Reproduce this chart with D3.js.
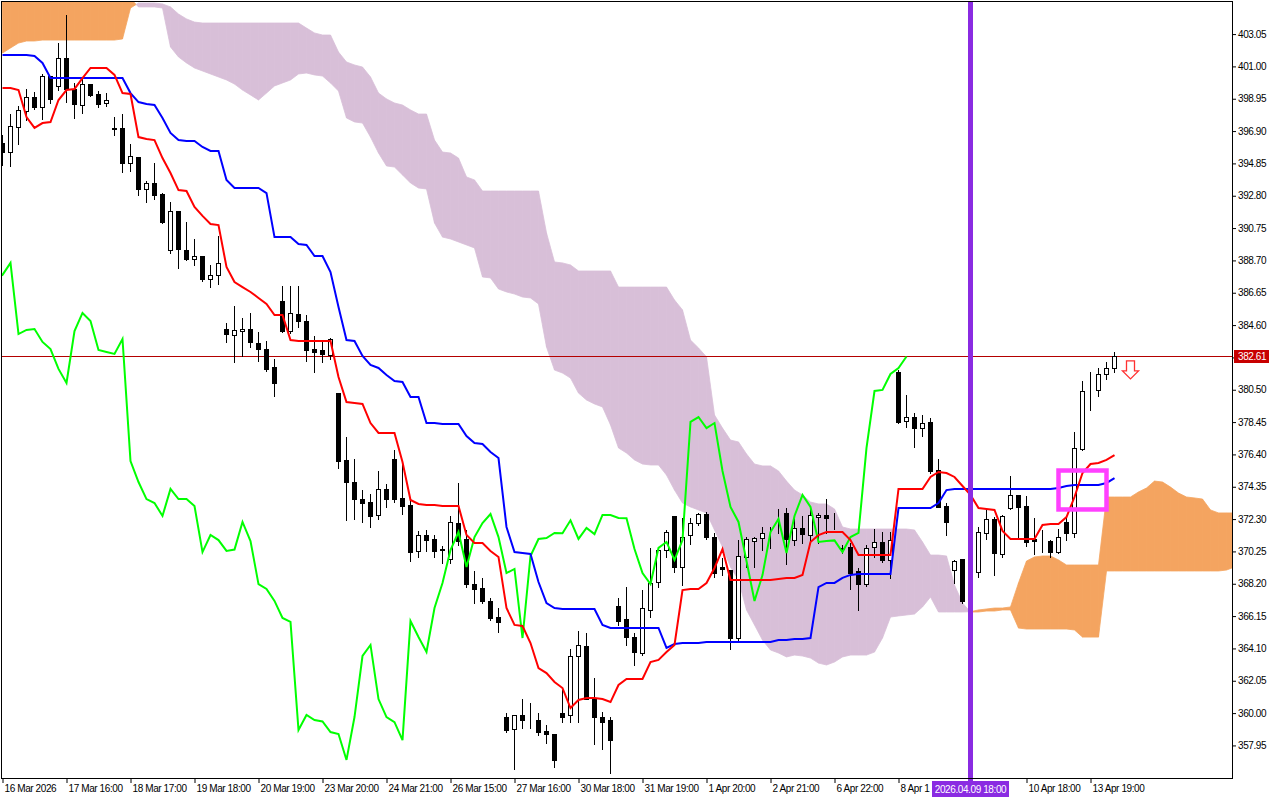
<!DOCTYPE html>
<html>
<head>
<meta charset="utf-8">
<script src="https://cdn.jsdelivr.net/npm/d3@7/dist/d3.min.js"></script>
<style>
html,body{margin:0;padding:0;background:#fff;}
svg{display:block;}
.ax text,.lbl{font-family:"Liberation Sans",Arial,sans-serif;font-size:10px;letter-spacing:-0.4px;}
.ax text{fill:#000;}
</style>
</head>
<body>
<svg id="chart" width="1280" height="800"></svg>
<script>
// ---------- DATA ----------
const opens = [
396.14,395.57,397.16,398.17,399.06,398.43,400.39,399.76,401.53,399.57,
398.55,399.88,399.25,398.68,397.10,397.10,394.88,395.26,393.23,393.61,
392.91,389.36,391.83,389.36,388.79,388.98,387.52,387.78,384.35,383.97,
384.22,384.35,383.46,383.08,381.94,386.13,384.22,385.30,384.86,383.08,
383.02,382.70,380.29,376.05,374.65,373.57,373.38,372.56,374.21,376.11,
373.64,373.19,370.28,371.29,371.04,370.40,369.77,372.05,371.04,368.18,
367.93,367.11,366.09,359.75,358.99,359.88,359.50,359.56,358.86,358.67,
360.01,359.88,363.62,364.25,360.89,359.75,359.56,366.79,365.97,364.82,
363.81,366.54,368.31,370.34,372.50,369.26,371.29,372.05,372.62,371.16,
369.26,369.07,364.76,369.90,370.91,371.10,371.42,372.24,372.69,370.97,
371.74,371.29,372.43,372.56,372.37,370.47,370.53,369.01,368.18,370.53,
370.85,369.71,381.63,378.52,378.77,378.07,378.46,375.41,373.13,369.07,
369.77,367.80,368.94,371.42,372.31,370.09,373.00,373.83,373.13,371.04,
370.97,370.91,370.21,372.12,371.42,376.74,380.48,380.48,381.50,381.88];
const highs = [
396.65,397.98,398.49,399.57,399.38,400.52,400.39,402.48,404.26,399.95,
400.26,399.88,399.44,399.31,397.79,397.98,396.08,395.26,393.73,394.88,
392.97,392.40,391.83,391.14,390.06,388.98,388.41,390.25,384.73,385.81,
385.05,385.37,384.16,383.59,382.45,387.08,387.08,387.08,385.24,383.91,
383.59,383.75,380.29,377.50,376.11,374.14,373.89,375.35,374.52,376.68,
376.05,373.51,371.55,371.61,371.29,370.59,372.50,374.59,371.61,369.01,
368.57,367.30,366.66,360.01,359.88,360.89,360.64,360.01,359.25,358.67,
361.46,364.06,365.20,365.08,362.22,360.07,359.75,367.30,367.99,365.08,
367.80,370.47,370.53,371.61,372.50,372.37,372.37,372.69,372.75,371.42,
369.83,369.07,370.97,371.16,371.16,371.80,371.80,372.94,373.00,372.37,
372.50,373.07,372.69,373.57,372.69,370.66,370.78,369.20,370.66,371.67,
371.48,371.48,381.75,380.17,379.03,378.90,378.71,376.11,373.32,369.71,
369.77,369.07,371.80,372.88,372.43,372.56,375.03,373.83,373.76,372.37,
371.61,370.97,371.67,372.37,377.82,381.05,381.63,381.88,382.26,382.89];
const lows = [
394.75,394.69,396.08,397.60,398.30,397.67,398.68,399.50,398.74,397.73,
398.05,399.12,398.43,398.49,396.65,394.31,394.37,392.85,392.40,392.59,
391.07,389.17,388.22,388.73,388.41,387.39,387.01,387.20,383.53,382.26,
382.64,383.21,382.32,381.69,380.10,384.16,384.10,384.48,382.32,381.63,
382.26,382.45,375.54,372.24,372.31,372.12,371.80,372.31,373.07,373.38,
372.62,369.64,369.90,370.28,369.90,369.52,369.52,370.66,367.99,366.98,
366.98,365.90,365.14,358.80,356.46,359.06,359.06,358.61,358.10,356.58,
359.43,359.43,359.43,360.89,358.04,357.72,356.20,365.59,364.32,363.05,
363.68,366.09,367.99,369.90,368.94,368.12,370.72,371.93,371.04,368.63,
368.76,364.06,364.51,369.26,369.26,370.34,370.47,371.42,369.45,370.66,
370.78,370.78,370.78,371.42,371.67,370.15,367.87,366.54,368.06,369.90,
369.58,368.57,378.39,378.14,376.87,377.57,375.22,373.07,371.29,368.25,
366.98,367.17,368.63,371.04,368.76,369.90,372.94,371.10,370.59,370.09,
370.21,369.90,370.15,370.97,371.16,376.68,379.22,380.10,381.18,381.63];
const closes = [
395.57,397.22,398.24,399.06,398.43,400.39,398.93,401.53,399.57,398.62,
399.88,399.19,398.62,398.87,397.06,394.88,395.32,393.23,393.61,392.85,
391.14,391.83,389.42,388.79,388.98,387.52,387.78,388.54,384.03,384.29,
384.35,383.53,383.08,381.82,380.93,384.22,385.37,384.86,383.02,382.89,
382.77,383.72,375.98,374.65,373.57,373.32,372.50,374.21,373.57,373.57,
373.13,370.21,371.29,370.97,370.28,370.37,372.12,370.91,368.18,367.87,
367.11,366.03,365.78,358.93,359.88,359.56,359.47,358.80,358.67,357.03,
359.75,363.62,364.32,360.89,359.75,359.43,358.29,365.84,364.82,363.87,
366.66,368.25,370.34,371.48,369.26,371.16,372.05,372.62,371.16,368.88,
369.14,364.76,369.96,371.04,371.10,371.42,371.40,372.22,371.04,371.74,
371.35,372.56,372.56,372.37,372.35,370.40,368.88,368.18,370.47,370.85,
369.71,370.97,378.46,378.77,378.07,378.39,375.35,373.07,372.12,369.64,
367.11,368.75,371.48,372.31,370.15,372.50,373.83,373.07,370.85,370.91,
370.95,370.21,371.16,371.42,376.81,380.42,380.49,381.50,381.88,382.61];
const tenkan = [
399.63,399.63,399.50,397.79,397.10,397.41,397.47,398.87,399.50,399.57,
400.26,400.90,400.90,400.90,400.46,399.31,399.25,396.52,396.40,396.33,
395.19,394.24,393.16,393.10,392.09,391.52,391.01,390.94,388.28,387.33,
387.01,386.70,386.32,385.94,385.24,385.24,383.65,383.59,383.59,383.59,
383.59,383.59,381.31,379.72,379.66,379.60,378.39,377.76,377.76,377.76,
375.92,373.51,373.26,373.19,373.19,373.13,373.13,373.13,371.29,370.78,
370.78,370.28,369.90,366.66,365.59,365.52,364.44,362.86,362.54,361.97,
361.59,360.32,360.83,360.96,360.96,360.89,360.70,361.78,362.16,362.16,
362.16,363.24,363.37,363.87,364.32,367.80,367.87,367.87,368.25,369.20,
370.40,368.44,368.44,368.44,368.44,368.44,368.44,368.50,368.57,368.57,
368.76,370.85,371.29,371.48,371.48,371.48,370.97,370.02,370.02,370.02,
370.02,370.02,374.21,374.21,374.21,374.21,374.97,375.29,375.22,374.97,
374.40,373.83,373.00,372.94,372.88,371.55,371.04,371.04,371.04,371.04,
371.93,371.99,371.99,372.43,373.70,375.22,375.79,375.86,376.05,376.36];
const kijun = [
401.72,401.72,401.72,401.72,401.66,401.22,400.26,400.26,400.26,400.26,
400.26,400.26,400.26,400.26,400.26,400.26,399.31,398.74,398.62,398.55,
397.73,396.78,396.33,396.27,396.27,395.89,395.64,395.64,393.80,393.29,
393.29,393.29,393.29,392.97,390.18,390.18,390.18,389.74,389.68,388.98,
388.98,387.96,385.75,383.65,383.59,382.64,382.07,381.88,381.43,381.05,
380.99,380.04,380.04,378.39,378.39,378.33,378.33,378.33,377.57,377.12,
377.06,376.55,376.17,371.80,370.21,370.15,370.09,368.31,366.98,366.66,
366.60,366.60,366.60,366.60,366.60,365.59,365.40,365.40,365.40,365.40,
365.40,365.40,365.40,364.13,364.38,364.44,364.44,364.44,364.51,364.51,
364.51,364.51,364.51,364.51,364.51,364.51,364.51,364.63,364.63,364.70,
364.70,364.76,367.99,368.25,368.25,368.57,368.76,368.82,368.82,368.82,
368.82,368.82,373.00,373.00,373.00,373.00,373.00,373.32,374.14,374.21,
374.21,374.21,374.21,374.21,374.21,374.21,374.21,374.21,374.21,374.21,
374.21,374.21,374.27,374.40,374.46,374.46,374.46,374.46,374.59,374.90];
// Senkou spans as plotted (already shifted forward), one value per bar slot
const spanA = [
406.20,406.20,406.20,406.20,406.20,406.20,406.20,406.20,406.20,406.20,
406.20,406.20,406.20,406.20,406.20,406.20,405.30,404.77,404.77,404.77,
404.70,402.23,401.60,401.22,400.90,400.71,400.52,400.33,400.14,399.88,
399.50,399.19,398.87,399.31,399.76,399.95,400.14,400.52,400.58,400.46,
400.39,399.95,399.44,397.73,397.48,397.41,396.52,395.51,394.69,394.62,
394.12,393.61,393.29,393.23,391.07,390.18,390.06,389.87,389.68,389.49,
387.65,387.59,386.89,386.70,386.57,386.38,386.32,385.94,383.21,381.75,
381.56,381.24,380.29,379.85,379.60,379.41,378.27,376.81,376.49,376.05,
375.79,375.73,375.73,375.09,374.14,373.32,373.07,372.88,372.69,371.61,
370.53,369.26,368.44,366.54,365.59,364.63,364.00,363.81,363.56,363.68,
363.62,363.49,363.17,363.05,363.24,363.56,363.68,363.68,363.68,363.87,
364.76,366.09,366.16,366.22,366.28,366.73,367.36,366.41,366.41,366.41,
366.41,366.43,366.54,366.60,366.66,366.66,366.73,368.25,369.64,369.90,
369.96,369.96,369.71,369.39,369.39,369.39,369.39,369.39,373.70,373.70,
373.70,373.70,374.02,374.27,374.71,374.65,374.33,373.95,373.70,373.64,
373.57,372.88,372.69,372.69,372.69];
const spanB = [
401.85,402.17,402.48,402.61,402.61,402.67,402.67,402.67,402.67,402.67,
402.67,402.67,402.67,402.67,402.67,402.74,404.70,405.02,405.02,405.02,
404.96,404.77,404.32,404.01,403.81,403.75,403.75,403.75,403.75,403.75,
403.75,403.75,403.75,403.75,403.75,403.75,403.75,403.75,403.43,403.12,
402.99,402.99,401.91,401.28,401.09,400.96,400.33,399.31,398.94,398.68,
398.55,398.24,397.98,397.98,396.33,395.57,395.51,395.19,393.99,393.80,
393.10,393.10,393.10,393.10,393.10,393.10,393.10,393.10,390.44,388.60,
388.54,388.41,388.03,388.03,388.03,388.03,388.03,387.01,387.01,387.01,
387.01,387.01,387.01,387.01,386.19,385.56,383.65,383.15,382.58,378.90,
378.07,377.31,377.19,376.43,375.79,375.67,375.67,375.35,374.71,374.14,
373.83,373.38,373.26,373.26,372.94,371.80,371.67,371.67,371.67,371.67,
371.67,371.67,371.67,371.67,371.61,370.85,370.02,370.02,369.96,368.12,
366.98,366.41,366.41,366.47,366.47,366.54,366.54,365.39,365.33,365.33,
365.33,365.33,365.33,365.33,365.27,364.82,364.82,364.82,369.01,369.01,
369.01,369.01,369.01,369.01,369.01,369.01,369.01,369.01,369.01,369.01,
369.01,369.01,369.01,369.07,369.26];
const chikouShift = 26;
const priceTicks = [403.05,401.00,398.95,396.90,394.85,392.80,390.75,388.70,386.65,384.60,382.55,380.50,
  378.45,376.40,374.35,372.30,370.25,368.20,366.15,364.10,362.05,360.00,357.95];
const timeTickBars = [0,8,16,24,32,40,48,56,64,72,80,88,96,104,112,128,136];
// the 8 Apr label is cut off by the vertical-line label in the original; only its visible part is kept
const timeTickLabels = ["16 Mar 2026","17 Mar 16:00","18 Mar 17:00","19 Mar 18:00","20 Mar 19:00",
  "23 Mar 20:00","24 Mar 21:00","26 Mar 15:00","27 Mar 16:00","30 Mar 18:00","31 Mar 19:00",
  "1 Apr 20:00","2 Apr 21:00","6 Apr 22:00","8 Apr 1","10 Apr 18:00","13 Apr 19:00"];
const lastPrice = 382.61;
const markerBar = 121;
const markerLabel = "2026.04.09 18:00";
const boxBars = [132, 138];
const boxPrices = [375.38, 372.91];
const arrowBar = 141;
const arrowPrice = 382.33;

// ---------- CHART ----------
const svg = d3.select("#chart");
const plot = {left:2, top:2, right:1232, bottom:778};
const x = d3.scaleLinear().domain([0, 153.6875]).range([2.5, plot.right]);
const y = d3.scaleLinear().domain([355.885, 405.083]).range([plot.bottom, plot.top]);

const colUp = "#f4a460", colDn = "#d8bfd8";

svg.append("rect").attr("width",1280).attr("height",800).attr("fill","#fff");
svg.append("clipPath").attr("id","clip").append("rect")
  .attr("x",plot.left).attr("y",plot.top)
  .attr("width",plot.right-plot.left).attr("height",plot.bottom-plot.top);
const g = svg.append("g").attr("clip-path","url(#clip)");

// cloud
const polys = [];
for (let i=0;i<spanA.length-1;i++){
  const a0=spanA[i], b0=spanB[i], a1=spanA[i+1], b1=spanB[i+1];
  const d0=a0-b0, d1=a1-b1;
  if (d0*d1 < 0){
    const t=d0/(d0-d1), xm=i+t, ym=a0+(a1-a0)*t;
    polys.push({up:d0>0, pts:[[i,a0],[xm,ym],[i,b0]]});
    polys.push({up:d1>0, pts:[[xm,ym],[i+1,a1],[i+1,b1]]});
  } else {
    polys.push({up:(d0+d1)>=0, pts:[[i,a0],[i+1,a1],[i+1,b1],[i,b0]]});
  }
}
g.append("g").selectAll("path").data(polys).join("path")
  .attr("d", d => "M" + d.pts.map(p => x(p[0]) + "," + y(p[1])).join("L") + "Z")
  .attr("fill", d => d.up ? colUp : colDn)
  .attr("stroke", d => d.up ? colUp : colDn)
  .attr("stroke-width", 0.8);

// last price line
g.append("line").attr("x1",plot.left).attr("x2",plot.right)
  .attr("y1",Math.round(y(lastPrice))+0.5).attr("y2",Math.round(y(lastPrice))+0.5)
  .attr("stroke","#b40000").attr("stroke-width",1);

// candles
const bars = opens.map((o,i)=>({i, o, h:highs[i], l:lows[i], c:closes[i]}));
const cg = g.append("g").attr("shape-rendering","crispEdges");
cg.selectAll("line").data(bars).join("line")
  .attr("x1", d=>Math.round(x(d.i)-0.5)+0.5).attr("x2", d=>Math.round(x(d.i)-0.5)+0.5)
  .attr("y1", d=>Math.round(y(d.h))).attr("y2", d=>Math.round(y(d.l))+1)
  .attr("stroke","#000").attr("stroke-width",1);
cg.selectAll("rect").data(bars).join("rect")
  .attr("x", d=>Math.round(x(d.i)-0.5)-1.5)
  .attr("width", 4)
  .attr("y", d=>Math.round(y(Math.max(d.o,d.c)))+0.5)
  .attr("height", d=>Math.max(0, Math.round(y(Math.min(d.o,d.c))) - Math.round(y(Math.max(d.o,d.c)))))
  .attr("fill", d=> d.c < d.o ? "#000" : "#fff")
  .attr("stroke","#000").attr("stroke-width",1);

// ichimoku lines
const line = d3.line().x(d=>x(d.bar)).y(d=>y(d.v));
const tk = tenkan.map((v,i)=>({bar:i, v}));
const kj = kijun.map((v,i)=>({bar:i, v}));
const ck = closes.map((v,i)=>({bar:i-chikouShift, v})).filter(d=>d.bar>=-1);
g.append("path").datum(ck).attr("d",line).attr("fill","none").attr("stroke","#00ff00").attr("stroke-width",2);
g.append("path").datum(kj).attr("d",line).attr("fill","none").attr("stroke","#0000ff").attr("stroke-width",2);
g.append("path").datum(tk).attr("d",line).attr("fill","none").attr("stroke","#ff0000").attr("stroke-width",2);

// vertical marker line
const mx = x(markerBar);
svg.append("line").attr("x1",mx).attr("x2",mx).attr("y1",plot.top).attr("y2",plot.bottom+3)
  .attr("stroke","#8a2be2").attr("stroke-width",5);

// magenta box
svg.append("rect")
  .attr("x", x(boxBars[0])).attr("y", y(boxPrices[0]))
  .attr("width", x(boxBars[1]) - x(boxBars[0]))
  .attr("height", y(boxPrices[1]) - y(boxPrices[0]))
  .attr("fill","none").attr("stroke","#ff40ff").attr("stroke-width",4.5);

// down arrow
const ax = x(arrowBar), ay = y(arrowPrice);
svg.append("path")
  .attr("d", `M${ax-4},${ay} H${ax+4} V${ay+10} H${ax+8} L${ax},${ay+18} L${ax-8},${ay+10} H${ax-4} Z`)
  .attr("fill","#fff").attr("stroke","#ff3030").attr("stroke-width",1.3);

// axes
const yAxis = svg.append("g").attr("class","ax").attr("transform",`translate(${plot.right},0)`)
  .call(d3.axisRight(y).tickValues(priceTicks).tickSize(4).tickSizeOuter(0).tickPadding(2).tickFormat(d3.format(".2f")));
yAxis.select(".domain").remove();
yAxis.attr("font-family",null).attr("font-size",null);

const xAxis = svg.append("g").attr("class","ax").attr("transform",`translate(0,${plot.bottom})`)
  .call(d3.axisBottom(x).tickValues(timeTickBars).tickSize(5).tickSizeOuter(0).tickPadding(2)
    .tickFormat((d,i)=>timeTickLabels[i]));
xAxis.select(".domain").remove();
xAxis.attr("font-family",null).attr("font-size",null);
xAxis.selectAll("text").attr("text-anchor","start").attr("x",1.5);

// frame
svg.append("rect").attr("x",1.5).attr("y",1.5)
  .attr("width",plot.right-1).attr("height",plot.bottom-1)
  .attr("fill","none").attr("stroke","#000").attr("stroke-width",1);

// marker label
svg.append("rect").attr("x",mx-38.5).attr("y",781).attr("width",77).attr("height",16).attr("fill","#8a2be2");
svg.append("text").attr("class","lbl").attr("x",mx).attr("y",792.5).attr("text-anchor","middle")
  .attr("fill","#fff").text(markerLabel);

// last price label
const py = y(lastPrice);
svg.append("rect").attr("x",plot.right+2).attr("y",Math.round(py)-6).attr("width",35).attr("height",13).attr("fill","#c80000");
svg.append("text").attr("class","lbl").attr("x",plot.right+6).attr("y",Math.round(py)+4)
  .attr("fill","#fff").text(d3.format(".2f")(lastPrice));
</script>
</body>
</html>
